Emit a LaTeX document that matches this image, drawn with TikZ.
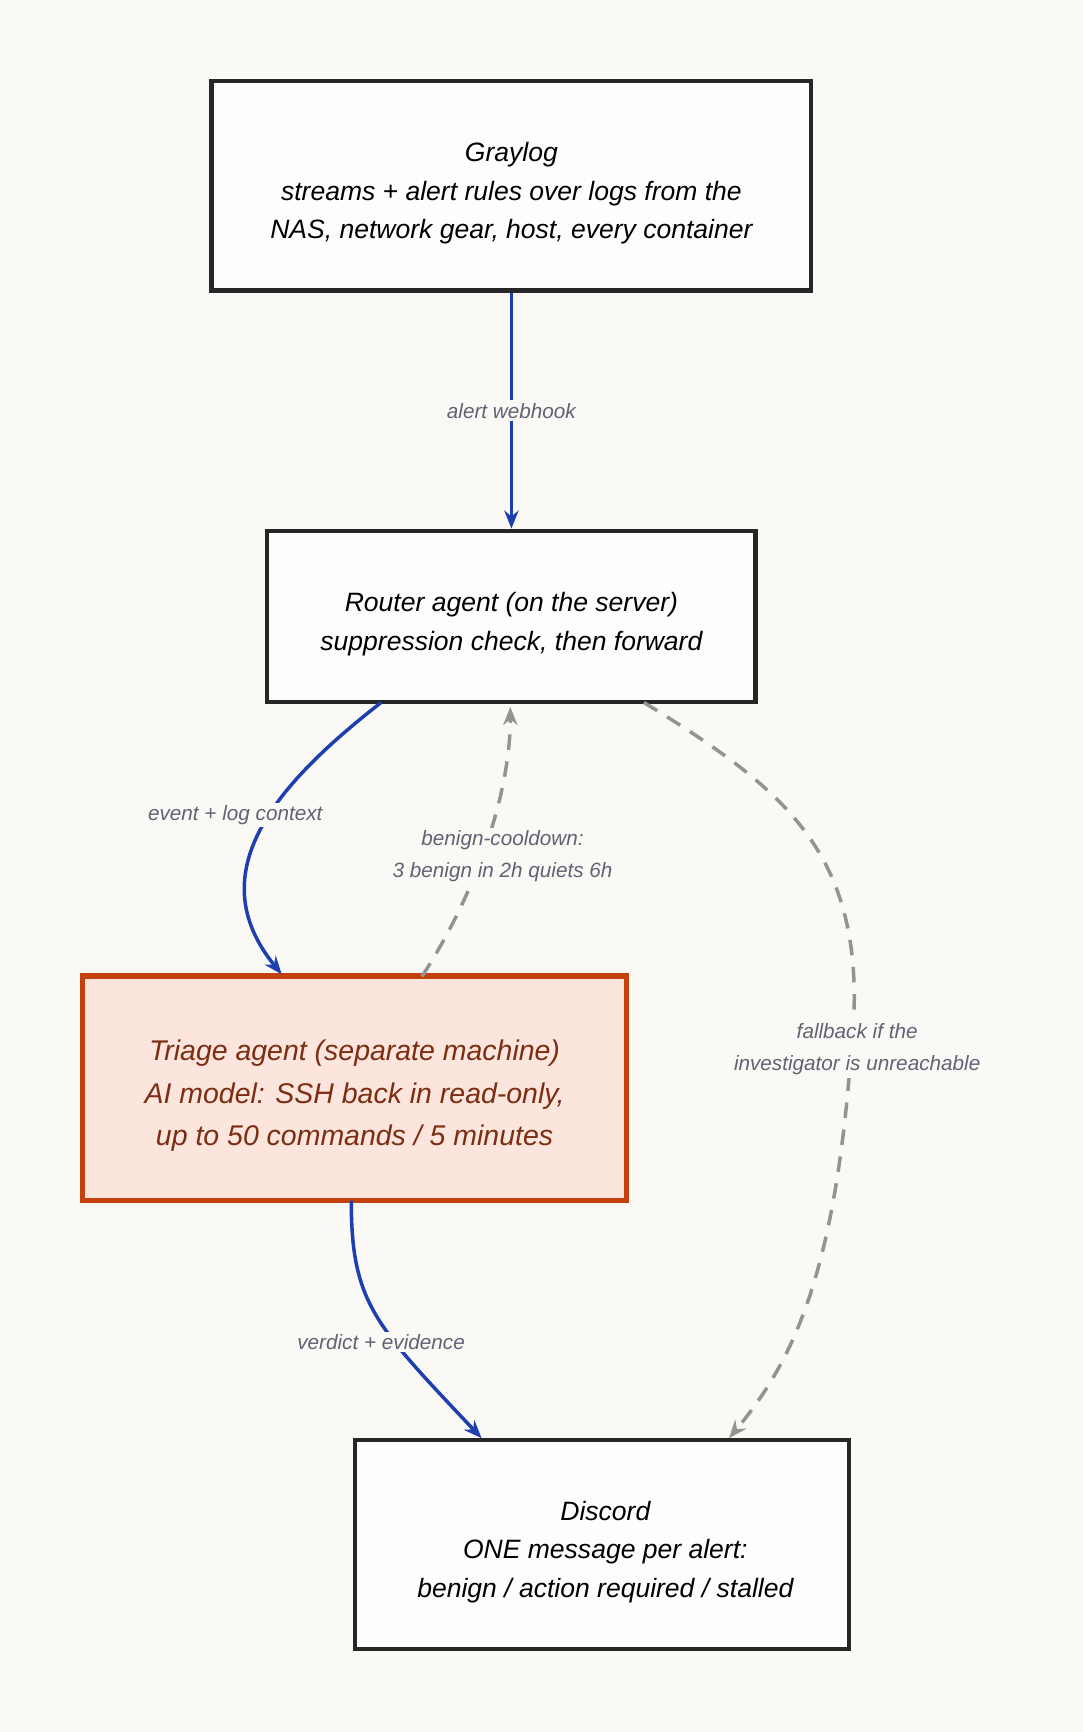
\documentclass[tikz,border=0pt]{standalone}
\usepackage{fontspec}
\setmainfont{Liberation Sans}
\usetikzlibrary{arrows.meta}
\definecolor{bg}{HTML}{FAF9F6}
\definecolor{blu}{HTML}{1E3FAE}
\definecolor{lbl}{HTML}{5F6473}
\definecolor{org}{HTML}{C2410C}
\definecolor{pk}{HTML}{FBE5DC}
\definecolor{brn}{HTML}{7C2D12}
\begin{document}
\begin{tikzpicture}[x=0.03cm,y=-0.03cm,
 box/.style={draw=black!85,line width=3.2pt,fill=white!60!bg,align=center,font=\fontsize{20.5}{30}\selectfont\itshape,inner sep=0pt},
 blue arr/.style={draw=blu,line width=2.7pt,-{Stealth[length=14pt,width=11pt]}},
 gray arr/.style={draw=gray!85,line width=2.7pt,dash pattern=on 12pt off 9pt,-{Stealth[length=14pt,width=11pt]}},
 lab/.style={fill=bg,text=lbl,font=\fontsize{16}{25}\selectfont\itshape,align=center,inner sep=2pt}]
\fill[bg] (0,0) rectangle (980,1568);
\useasboundingbox (0,0) rectangle (980,1568);
\node[box,minimum width=543*0.03cm,minimum height=190*0.03cm] (g) at (463,168) {};
\node[font=\fontsize{20.5}{30}\selectfont\itshape,align=center] at (463,175) {Graylog\\streams + alert rules over logs from the\\NAS, network gear, host, every container};
\node[box,minimum width=442*0.03cm,minimum height=155*0.03cm] (r) at (463,558) {};
\node[font=\fontsize{20.5}{30}\selectfont\itshape,align=center] at (463,565) {Router agent (on the server)\\suppression check, then forward};
\node[box,draw=org,line width=4pt,fill=pk,minimum width=492*0.03cm,minimum height=203*0.03cm] (t) at (321,985) {};
\node[text=brn,font=\fontsize{22}{33}\selectfont\itshape,align=center] at (321,992) {Triage agent (separate machine)\\AI model: SSH back in read-only,\\up to 50 commands / 5 minutes};
\node[box,minimum width=447*0.03cm,minimum height=189*0.03cm] (d) at (545,1398) {};
\node[font=\fontsize{20.5}{30}\selectfont\itshape,align=center] at (548,1405) {Discord\\ONE message per alert:\\benign / action required / stalled};
\coordinate (r1) at (345,636); \coordinate (t1) at (255,882);
\coordinate (t2) at (382,884); \coordinate (r2) at (462,640);
\coordinate (r3) at (583,636); \coordinate (d3) at (660,1302);
\coordinate (t4) at (318,1087); \coordinate (d4) at (436,1302);
\draw[blue arr] (g.south) -- (r.north) node[lab,pos=0.5] {alert webhook};
\draw[blue arr] (r1) .. controls (250,710) and (180,790) .. (t1);
\node[lab] at (213,738) {event + log context};
\draw[gray arr] (t2) .. controls (430,810) and (462,720) .. (r2);
\node[lab] at (455,775) {benign-cooldown:\\3 benign in 2h quiets 6h};
\draw[gray arr] (r3) .. controls (720,720) and (790,780) .. (770,960) .. controls (755,1150) and (720,1230) .. (d3);
\node[lab] at (776,950) {fallback if the\\investigator is unreachable};
\draw[blue arr] (t4) .. controls (318,1180) and (340,1200) .. (d4);
\node[lab] at (345,1215) {verdict + evidence};
\end{tikzpicture}
\end{document}
